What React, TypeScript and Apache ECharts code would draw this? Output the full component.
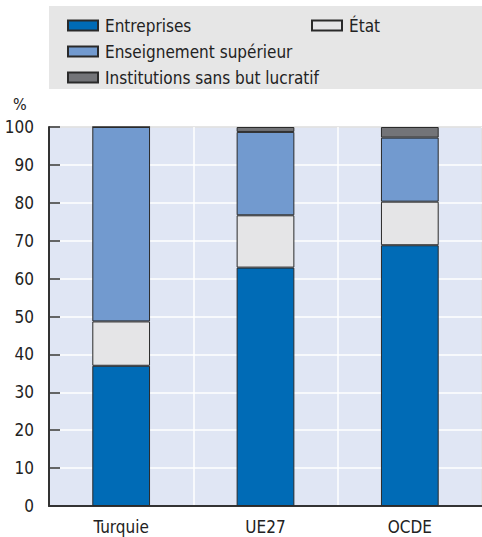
import React, { useEffect, useRef } from "react";
import * as echarts from "echarts";

const categories = ["Turquie", "UE27", "OCDE"];
const entreprises = [37.0, 62.9, 68.8];
const etat = [11.7, 13.8, 11.5];
const enseignement = [51.3, 22.0, 16.9];
const institutions = [0, 1.3, 2.8];
const yTicks = [0, 10, 20, 30, 40, 50, 60, 70, 80, 90, 100];

const FONT = "'DejaVu Sans Condensed', 'Liberation Sans Narrow', 'Roboto', sans-serif";
const TXT = "#222";

export default function App() {
  const ref = useRef<HTMLDivElement>(null);
  useEffect(() => {
    if (!ref.current) return;
    const chart = echarts.init(ref.current, undefined, { renderer: "svg" });
    const barBase = {
      type: "bar",
      stack: "total",
      barWidth: "40%",
      itemStyle: { borderColor: "#2a2a2a", borderWidth: 1 },
    };
    const legendBase = {
      orient: "horizontal",
      itemWidth: 30,
      itemHeight: 10,
      icon: "rect",
      textStyle: { fontFamily: FONT, fontSize: 17, color: TXT, padding: [0, 0, 0, 2] },
      selectedMode: false,
    };
    chart.setOption({
      animation: false,
      textStyle: { fontFamily: FONT },
      graphic: [
        {
          type: "rect",
          shape: { x: 49, y: 6, width: 433, height: 83 },
          style: { fill: "#e6e6e6" },
          z: -10,
        },
        {
          type: "text",
          left: 13,
          top: 96,
          style: { text: "%", font: `16px ${FONT}`, fill: TXT },
        },
      ],
      legend: [
        { ...legendBase, data: ["Entreprises"], left: 62, top: 12 },
        { ...legendBase, data: ["État"], left: 306, top: 12 },
        { ...legendBase, data: ["Enseignement supérieur"], left: 62, top: 38 },
        { ...legendBase, data: ["Institutions sans but lucratif"], left: 62, top: 64 },
      ],
      grid: {
        left: 49,
        right: -5,
        top: 127,
        bottom: 31,
        show: true,
        backgroundColor: "#e0e6f4",
        borderColor: "#333",
        borderWidth: 1,
      },
      xAxis: {
        type: "category",
        data: categories,
        axisLine: { lineStyle: { color: "#333", width: 2 } },
        axisTick: { inside: true, length: 11, lineStyle: { color: "#333", width: 1.5 } },
        axisLabel: { fontFamily: FONT, fontSize: 17, color: TXT, margin: 12 },
        splitLine: { show: true, lineStyle: { color: "#ffffff", width: 1.5 } },
      },
      yAxis: {
        type: "value",
        min: yTicks[0],
        max: yTicks[yTicks.length - 1],
        interval: 10,
        axisLine: { show: true, lineStyle: { color: "#333", width: 2 } },
        axisTick: { show: true, inside: true, length: 11, lineStyle: { color: "#333", width: 1.5 } },
        axisLabel: { fontFamily: FONT, fontSize: 17, color: TXT, margin: 15 },
        splitLine: { show: true, lineStyle: { color: "#ffffff", width: 1.5 } },
      },
      series: [
        { ...barBase, name: "Entreprises", data: entreprises, itemStyle: { ...barBase.itemStyle, color: "#006bb6" } },
        { ...barBase, name: "État", data: etat, itemStyle: { ...barBase.itemStyle, color: "#e5e5e7" } },
        { ...barBase, name: "Enseignement supérieur", data: enseignement, itemStyle: { ...barBase.itemStyle, color: "#729acf" } },
        { ...barBase, name: "Institutions sans but lucratif", data: institutions, itemStyle: { ...barBase.itemStyle, color: "#737478" } },
      ],
    });
    return () => chart.dispose();
  }, []);
  return (
    <div
      ref={ref}
      style={{ position: "absolute", left: 0, top: 0, width: 482, height: 537 }}
    />
  );
}
